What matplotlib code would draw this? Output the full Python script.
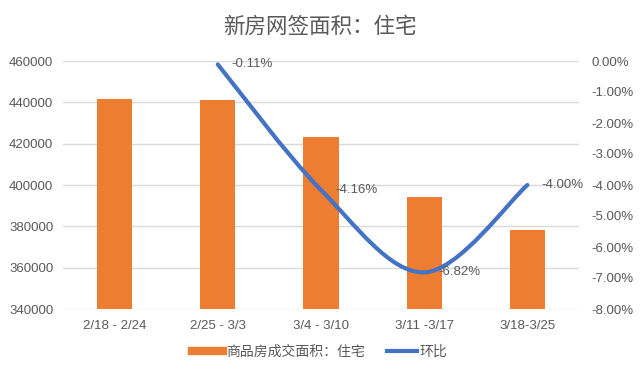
import numpy as np
import matplotlib.pyplot as plt
from matplotlib.path import Path
from matplotlib.patches import PathPatch
from matplotlib.lines import Line2D
from matplotlib.ticker import FuncFormatter

plt.rcParams['font.family'] = ['Liberation Sans', 'Noto Sans CJK SC', 'DejaVu Sans']

weeks = ['2/18 - 2/24', '2/25 - 3/3', '3/4 - 3/10', '3/11 -3/17', '3/18-3/25']
area = [441500, 441000, 423000, 394000, 378000]
mom = [-0.11, -4.16, -6.82, -4.00]   # 环比 %, from week 2 on
mom_labels = ['-0.11%', '-4.16%', '-6.82%', '-4.00%']

orange = '#ED7D31'
blue = '#4472C4'
grey = '#595959'

fig = plt.figure(figsize=(6.4, 3.72), dpi=100)
ax = fig.add_axes([63 / 640, 1 - 309 / 372, 516 / 640, 248 / 372])
x = np.arange(len(weeks))
ax.bar(x, area, width=0.34, color=orange, zorder=2)
ax.set_ylim(340000, 460000)
ax.set_yticks(range(340000, 460001, 20000))
ax.set_xlim(-0.5, len(weeks) - 0.5)
ax.set_xticks(x)
ax.set_xticklabels(weeks)
ax.grid(axis='y', color='#D9D9D9', linewidth=1, zorder=0)
for s in ax.spines.values():
    s.set_visible(False)
ax.tick_params(length=0, colors=grey, labelsize=9.5)
ax.tick_params(axis='y', pad=7)
ax.tick_params(axis='x', pad=8)

ax2 = ax.twinx()
ax2.set_ylim(-8, 0)
ax2.set_yticks(range(-8, 1))
ax2.yaxis.set_major_formatter(FuncFormatter(lambda v, p: '%.2f%%' % v))
for s in ax2.spines.values():
    s.set_visible(False)
ax2.tick_params(length=0, colors=grey, labelsize=9.5, pad=9)

# smoothed line (cubic bezier through the points)
lx = x[1:].astype(float)
ly = np.array(mom)
pts = np.column_stack([lx, ly])
n = len(pts)
verts = [pts[0]]
codes = [Path.MOVETO]
for i in range(n - 1):
    p0 = pts[i - 1] if i > 0 else pts[i]
    p1, p2 = pts[i], pts[i + 1]
    p3 = pts[i + 2] if i + 2 < n else pts[i + 1]
    c1 = p1 + (p2 - p0) / 6
    c2 = p2 - (p3 - p1) / 6
    verts += [c1, c2, p2]
    codes += [Path.CURVE4] * 3
ax2.add_patch(PathPatch(Path(verts, codes), facecolor='none', edgecolor=blue,
                        linewidth=3, capstyle='round', zorder=3))

for xi, yi, t in zip(lx, ly, mom_labels):
    ax2.annotate(t, (xi, yi), xytext=(10, 0), textcoords='offset points',
                 ha='left', va='center', fontsize=9.5, color=grey, zorder=4)

fig.text(0.5, 1 - 27 / 372, '新房网签面积：住宅', ha='center', va='center',
         fontsize=15.5, color=grey)

handles = [Line2D([], [], color=orange, linewidth=6),
           Line2D([], [], color=blue, linewidth=3)]
fig.legend(handles, ['商品房成交面积：住宅', '环比'], loc='center',
           bbox_to_anchor=(0.5, 1 - 352 / 372), ncol=2, frameon=False,
           fontsize=10, labelcolor=grey, handlelength=2.2, handletextpad=0.2,
           columnspacing=1.6)

fig.savefig('out.png', dpi=100)
